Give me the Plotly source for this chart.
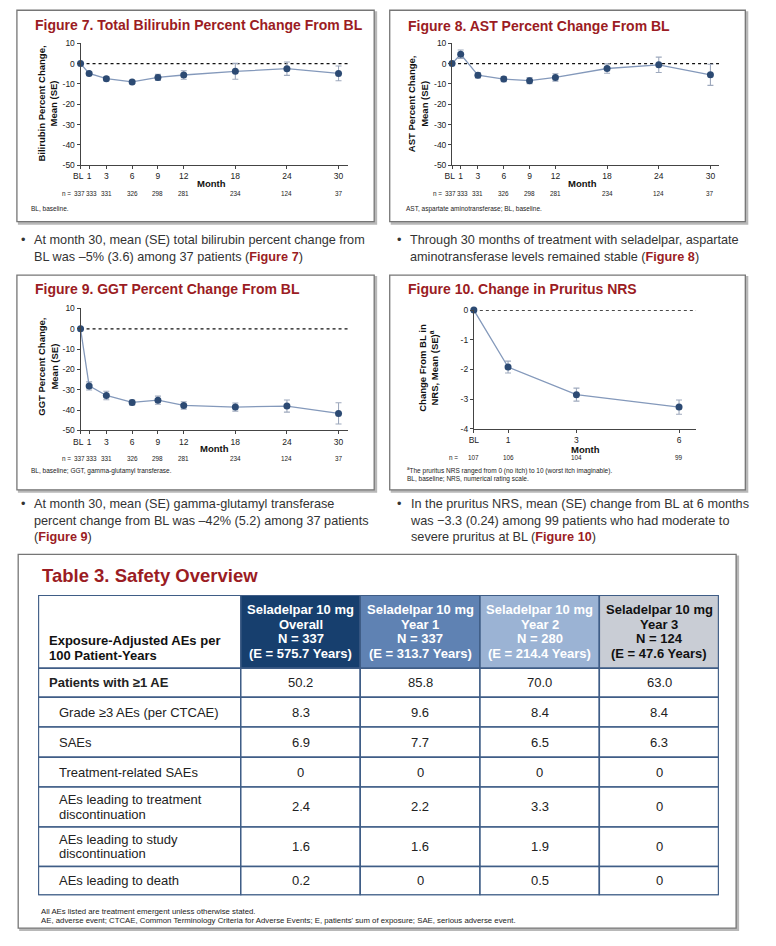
import plotly.graph_objects as go

# ---------------- data ----------------
months = [0, 1, 3, 6, 9, 12, 18, 24, 30]
month_labels = ["BL\u00a0\u00a0", "1", "3", "6", "9", "12", "18", "24", "30"]
n_long = [337, 333, 331, 326, 298, 281, 234, 124, 37]

bili_mean = [0, -4.8, -7.4, -9.0, -6.8, -5.6, -3.8, -2.5, -4.8]
bili_se = [0, 0.8, 1.0, 0.8, 1.5, 2.1, 3.9, 3.3, 3.6]

ast_mean = [0, 4.6, -5.7, -7.6, -8.4, -6.8, -2.4, -0.6, -5.5]
ast_se = [0, 2.1, 1.3, 1.3, 1.5, 1.8, 2.3, 3.8, 5.2]

ggt_mean = [0, -28.1, -32.8, -36.2, -35.1, -37.7, -38.5, -38.0, -41.6]
ggt_se = [0, 2.0, 2.1, 1.2, 2.0, 1.8, 2.0, 3.0, 5.2]

nrs_months = [0, 1, 3, 6]
nrs_labels = ["BL", "1", "3", "6"]
nrs_mean = [0, -1.92, -2.85, -3.27]
nrs_se = [0, 0.20, 0.22, 0.24]
n_nrs = [107, 106, 104, 99]

pct_ticks = [-50, -40, -30, -20, -10, 0, 10]
nrs_ticks = [-4, -3, -2, -1, 0]

tbl_corner = ["Exposure-Adjusted AEs per", "100 Patient-Years"]
tbl_groups = ["Overall", "Year 1", "Year 2", "Year 3"]
tbl_n = [337, 337, 280, 124]
tbl_exposure = ["575.7", "313.7", "214.4", "47.6"]
tbl_rows = ["Patients with ≥1 AE",
            "Grade ≥3 AEs (per CTCAE)",
            "SAEs",
            "Treatment-related SAEs",
            "AEs leading to treatment<br>discontinuation",
            "AEs leading to study<br>discontinuation",
            "AEs leading to death"]
tbl_overall = ["50.2", "8.3", "6.9", "0", "2.4", "1.6", "0.2"]
tbl_year1 = ["85.8", "9.6", "7.7", "0", "2.2", "1.6", "0"]
tbl_year2 = ["70.0", "8.4", "6.5", "0", "3.3", "1.9", "0.5"]
tbl_year3 = ["63.0", "8.4", "6.3", "0", "0", "0", "0"]

# ---------------- style ----------------
W, H = 776, 946
DX, DY = -7, -2  # compensation for page offset
def X(px): return (px + DX) / W
def Y(py): return 1 - (py + DY) / H

FONT = "Liberation Sans, Arial, Helvetica, sans-serif"
RED = "#9b1c23"
NAVY = "#2c4a73"
LINEC = "#8499bb"
ERRC = "#9ea9bd"
TXT = "#222222"

def figref(label):
    return "(<span style='color:" + RED + "'><b>" + label + "</b></span>)"

fig = go.Figure()

panels = [
    dict(k="", x=months, y=bili_mean, e=bili_se, n=n_long, tl=month_labels,
         xd=(80.3, 350.7), yd=(40.7, 164), xr=(0, 31.12), yr=(-50, 10), yt=pct_ticks,
         title="Figure 7. Total Bilirubin Percent Change From BL", tx=32.3, ty=22,
         ytitle="Bilirubin Percent Change,<br>Mean (SE)", ytx=47, yty=102,
         mx=212.7, my=182.7, ny=193, nshift=-8,
         foot=["BL, baseline."], fx=28, fy=208),
    dict(k="2", x=months, y=ast_mean, e=ast_se, n=n_long, tl=month_labels,
         xd=(455.7, 725.7), yd=(40.7, 164), xr=(0, 31.03), yr=(-50, 10), yt=pct_ticks,
         title="Figure 8. AST Percent Change From BL", tx=409, ty=23,
         ytitle="AST Percent Change,<br>Mean (SE)", ytx=421.5, yty=102,
         mx=587.7, my=182.7, ny=193, nshift=-8,
         foot=["AST, aspartate aminotransferase; BL, baseline."], fx=407, fy=208),
    dict(k="3", x=months, y=ggt_mean, e=ggt_se, n=n_long, tl=month_labels,
         xd=(80.3, 350.7), yd=(308.7, 432), xr=(0, 31.12), yr=(-50, 10), yt=pct_ticks,
         title="Figure 9. GGT Percent Change From BL", tx=32.3, ty=289.3,
         ytitle="GGT Percent Change,<br>Mean (SE)", ytx=47, yty=368,
         mx=216, my=450.3, ny=460.3, nshift=-8,
         foot=["BL, baseline; GGT, gamma-glutamyl transferase."], fx=28, fy=473),
    dict(k="4", x=nrs_months, y=nrs_mean, e=nrs_se, n=n_nrs, tl=nrs_labels,
         xd=(477.7, 702.3), yd=(310.3, 430.3), xr=(0, 6.5), yr=(-4, 0), yt=nrs_ticks,
         title="Figure 10. Change in Pruritus NRS", tx=409, ty=289,
         ytitle="Change From BL in<br>NRS, Mean (SE)<sup>a</sup>", ytx=431, yty=369,
         mx=590.7, my=451, ny=459.7, nshift=-14,
         foot=["<sup>a</sup>The pruritus NRS ranged from 0 (no itch) to 10 (worst itch imaginable).",
               "BL, baseline; NRS, numerical rating scale."], fx=408, fy=472.3),
]

shapes = []
annos = []

def txt_anno(text, x, y, size, color=TXT, xanchor="left", xref="paper", yref="paper", **kw):
    d = dict(text=text, x=x, y=y, xref=xref, yref=yref, xanchor=xanchor, yanchor="middle",
             showarrow=False, font=dict(family=FONT, size=size, color=color))
    d.update(kw)
    annos.append(d)

# panel boxes (with soft drop shadow)
boxes = [(16, 7.3, 377, 221), (392.7, 7.3, 752, 221),
         (16, 275, 377, 492), (392.7, 275, 752, 492),
         (17.3, 557.3, 742.7, 935)]
for (x0, y0, x1, y1) in boxes:
    shapes.append(dict(type="rect", xref="paper", yref="paper", layer="below",
                       x0=X(x0 + 2), x1=X(x1 + 2), y0=Y(y1 + 2), y1=Y(y0 + 2),
                       line=dict(color="#b8b8b8", width=2), fillcolor="#b8b8b8"))
    shapes.append(dict(type="rect", xref="paper", yref="paper", layer="below",
                       x0=X(x0), x1=X(x1), y0=Y(y1), y1=Y(y0),
                       line=dict(color="#767676", width=1.3), fillcolor="white"))

layout_axes = {}
for p in panels:
    k = p["k"]
    fig.add_trace(go.Scatter(
        x=p["x"], y=p["y"], mode="lines+markers", xaxis="x" + k, yaxis="y" + k,
        line=dict(color=LINEC, width=1.3),
        marker=dict(color=NAVY, size=7),
        error_y=dict(type="data", array=p["e"], visible=True, color=ERRC,
                     thickness=1.1, width=3),
        cliponaxis=False, showlegend=False, hoverinfo="skip"))
    common = dict(showgrid=False, zeroline=False, showline=True,
                  linecolor="#444", linewidth=1, ticks="outside", ticklen=3,
                  tickcolor="#444", tickfont=dict(family=FONT, size=8.5, color=TXT),
                  fixedrange=True, tickangle=0)
    layout_axes["xaxis" + k] = dict(domain=[X(p["xd"][0]), X(p["xd"][1])], range=list(p["xr"]),
                                    anchor="y" + k, tickvals=p["x"], ticktext=p["tl"], **common)
    layout_axes["yaxis" + k] = dict(domain=[Y(p["yd"][1]), Y(p["yd"][0])], range=list(p["yr"]),
                                    anchor="x" + k, tickvals=p["yt"],
                                    ticktext=[str(v) for v in p["yt"]], **common)
    shapes.append(dict(type="line", xref="x" + k, yref="y" + k, layer="below",
                       x0=p["xr"][0], x1=p["xr"][1], y0=0, y1=0,
                       line=dict(color="#111", width=1.2, dash="dot")))
    txt_anno("<b>" + p["title"] + "</b>", X(p["tx"]), Y(p["ty"]), 14, RED)
    txt_anno("<b>" + p["ytitle"] + "</b>", X(p["ytx"]), Y(p["yty"]), 9.5, "#111",
             xanchor="center", textangle=-90)
    txt_anno("<b>Month</b>", X(p["mx"]), Y(p["my"]), 9.5, "#111", xanchor="center")
    txt_anno("n =", 0, Y(p["ny"]), 6.4, xanchor="right", xref="x" + k, xshift=p["nshift"])
    for i, (xv, nv) in enumerate(zip(p["x"], p["n"])):
        sh = 0
        if len(p["x"]) > 4 and i in (0, 1):
            sh = -1.5 if i == 0 else 2
        txt_anno(str(nv), xv, Y(p["ny"]), 6.4, xanchor="center", xref="x" + k, xshift=sh)
    for i, f in enumerate(p["foot"]):
        txt_anno(f, X(p["fx"]), Y(p["fy"] + i * 8.4), 6.5)

# bullet texts
bullets = [
    (31, 248, "At month 30, mean (SE) total bilirubin percent change from<br>"
              "BL was –5% (3.6) among 37 patients " + figref("Figure 7")),
    (411, 248, "Through 30 months of treatment with seladelpar, aspartate<br>"
               "aminotransferase levels remained stable " + figref("Figure 8")),
    (31, 523, "At month 30, mean (SE) gamma-glutamyl transferase<br>"
              "percent change from BL was –42% (5.2) among 37 patients<br>"
              + figref("Figure 9")),
    (411, 523, "In the pruritus NRS, mean (SE) change from BL at 6 months<br>"
               "was −3.3 (0.24) among 99 patients who had moderate to<br>"
               "severe pruritus at BL " + figref("Figure 10")),
]
for bx, by, t in bullets:
    nl = t.count("<br>") + 1
    txt_anno(t, X(bx), Y(by), 12.7, "#333", align="left")
    txt_anno("•", X(bx - 13), Y(by - (nl - 1) * 8.25), 12.7, "#333")

# ---------------- table (drawn on its own hidden axes) ----------------
col_w = [204.7, 120.7, 121, 120.6, 120.7]
row_h = [74, 29.4, 30, 30.6, 30, 40.4, 40, 29]
TBL_X, TBL_Y = 37.5, 598.3
head_fill = ["white", "#173f6e", "#5f82b3", "#9bb3d4", "#c9cdd5"]
head_font = ["#111", "white", "white", "white", "#111"]
BORDER = "#3f5d86"
LS = 14.6  # line spacing inside table cells

tw, th = sum(col_w), sum(row_h)
layout_axes["xaxis5"] = dict(domain=[X(TBL_X), X(TBL_X + tw)], range=[0, tw], anchor="y5",
                             visible=False, fixedrange=True)
layout_axes["yaxis5"] = dict(domain=[Y(TBL_Y + th), Y(TBL_Y)], range=[th, 0], anchor="x5",
                             visible=False, fixedrange=True)
fig.add_trace(go.Scatter(x=[0, tw], y=[0, th], xaxis="x5", yaxis="y5", mode="markers",
                         marker=dict(opacity=0), showlegend=False, hoverinfo="skip"))

xe = [sum(col_w[:i]) for i in range(len(col_w) + 1)]
ye = [sum(row_h[:i]) for i in range(len(row_h) + 1)]
body_cols = [tbl_rows, tbl_overall, tbl_year1, tbl_year2, tbl_year3]

def cell_lines(lines, xc, yc, size, color, xanchor, bold=False):
    n = len(lines)
    for j, ln in enumerate(lines):
        yy = yc + (j - (n - 1) / 2) * LS
        txt_anno("<b>" + ln + "</b>" if bold else ln, xc, yy, size, color,
                 xanchor=xanchor, xref="x5", yref="y5")

for c in range(len(col_w)):
    shapes.append(dict(type="rect", xref="x5", yref="y5", layer="below",
                       x0=xe[c], x1=xe[c + 1], y0=ye[0], y1=ye[1],
                       fillcolor=head_fill[c], line=dict(color=BORDER, width=1.5)))
    for r in range(1, len(row_h)):
        shapes.append(dict(type="rect", xref="x5", yref="y5", layer="below",
                           x0=xe[c], x1=xe[c + 1], y0=ye[r], y1=ye[r + 1],
                           fillcolor="white", line=dict(color=BORDER, width=1.5)))
shapes.append(dict(type="rect", xref="x5", yref="y5", layer="above",
                   x0=0, x1=tw, y0=0, y1=th, line=dict(color=BORDER, width=2)))

hc = (ye[0] + ye[1]) / 2
cell_lines(tbl_corner, 9, ye[1] - 6 - LS / 2 - 7.3, 13, head_font[0], "left", bold=True)
for c in range(1, 5):
    lines = ["Seladelpar 10 mg", tbl_groups[c - 1], "N = %d" % tbl_n[c - 1],
             "(E = " + tbl_exposure[c - 1] + " Years)"]
    cell_lines(lines, (xe[c] + xe[c + 1]) / 2, hc, 13, head_font[c], "center", bold=True)

for r, label in enumerate(tbl_rows):
    yc = (ye[r + 1] + ye[r + 2]) / 2
    first = (r == 0)
    cell_lines(label.split("<br>"), 9 if first else 19, yc, 13, TXT, "left", bold=first)
    for c in range(1, 5):
        cell_lines([body_cols[c][r]], (xe[c] + xe[c + 1]) / 2, yc, 13, TXT, "center")

txt_anno("<b>Table 3. Safety Overview</b>", X(39), Y(578.3), 18.5, RED)
txt_anno("All AEs listed are treatment emergent unless otherwise stated.",
         X(38), Y(918.5), 7.8)
txt_anno("AE, adverse event; CTCAE, Common Terminology Criteria for Adverse Events; "
         "E, patients' sum of exposure; SAE, serious adverse event.", X(38), Y(927.3), 7.8)

fig.update_layout(width=W, height=H, margin=dict(l=0, r=0, t=0, b=0),
                  paper_bgcolor="white", plot_bgcolor="rgba(0,0,0,0)",
                  shapes=shapes, annotations=annos, showlegend=False,
                  **layout_axes)

fig.write_html("out.html", config={"displayModeBar": False},
               post_script="document.body.style.margin='0';document.body.style.overflow='hidden';")
